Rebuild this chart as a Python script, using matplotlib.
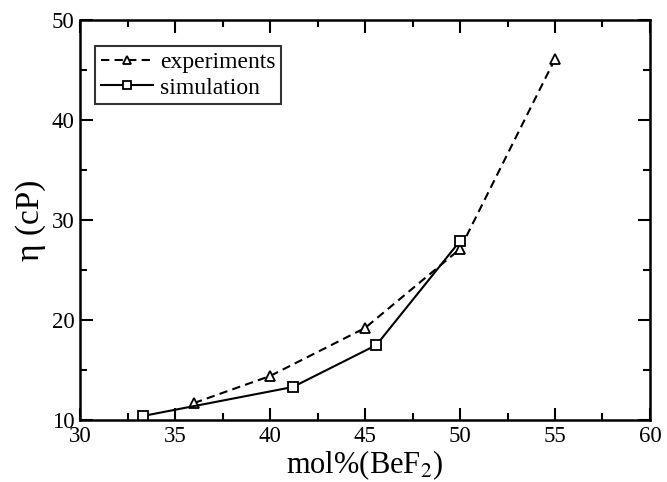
import matplotlib
matplotlib.use("Agg")
import matplotlib.pyplot as plt
from matplotlib.ticker import MultipleLocator

# viscosity of LiF-BeF2 melts vs BeF2 content
exp_x = [36.0, 40.0, 45.0, 50.0, 55.0]
exp_eta = [11.7, 14.4, 19.2, 27.1, 46.1]

sim_x = [33.3, 41.2, 45.6, 50.0]
sim_eta = [10.4, 13.3, 17.5, 27.9]

plt.rcParams['font.family'] = ['Liberation Serif', 'DejaVu Serif']
plt.rcParams['mathtext.fontset'] = 'stix'

fig = plt.figure(figsize=(6.67, 4.82), dpi=100)
ax = fig.add_axes([0.12, 0.1286, 0.8545, 0.8299])

ax.plot(exp_x, exp_eta, linestyle='--', color='black', linewidth=1.5,
        marker='^', markersize=7, markerfacecolor='white',
        markeredgecolor='black', markeredgewidth=1.3, label='experiments',
        dashes=(4, 2.5))
ax.plot(sim_x, sim_eta, linestyle='-', color='black', linewidth=1.5,
        marker='s', markersize=7, markerfacecolor='white',
        markeredgecolor='black', markeredgewidth=1.3, label='simulation')

ax.set_xlim(30, 60)
ax.set_ylim(10, 50)
ax.xaxis.set_major_locator(MultipleLocator(5))
ax.xaxis.set_minor_locator(MultipleLocator(2.5))
ax.yaxis.set_major_locator(MultipleLocator(10))
ax.yaxis.set_minor_locator(MultipleLocator(5))

ax.tick_params(which='both', direction='in', top=True, right=True,
               labelsize=16.5, width=1.5, pad=4)
ax.tick_params(which='major', length=9)
ax.tick_params(which='minor', length=5)
for sp in ax.spines.values():
    sp.set_linewidth(1.8)

ax.set_xlabel('mol%(BeF$_2$)', fontsize=22, labelpad=1)
ax.set_ylabel('η (cP)', fontsize=24, labelpad=4)

leg = ax.legend(loc='upper left', bbox_to_anchor=(0.026, 0.935), fontsize=17,
                frameon=True, fancybox=False, edgecolor='black',
                handlelength=2.2, handletextpad=0.3, borderpad=0.25,
                labelspacing=0.15, borderaxespad=0, markerscale=0.85)
leg.get_frame().set_linewidth(1.5)

fig.savefig('out.png', dpi=100)
